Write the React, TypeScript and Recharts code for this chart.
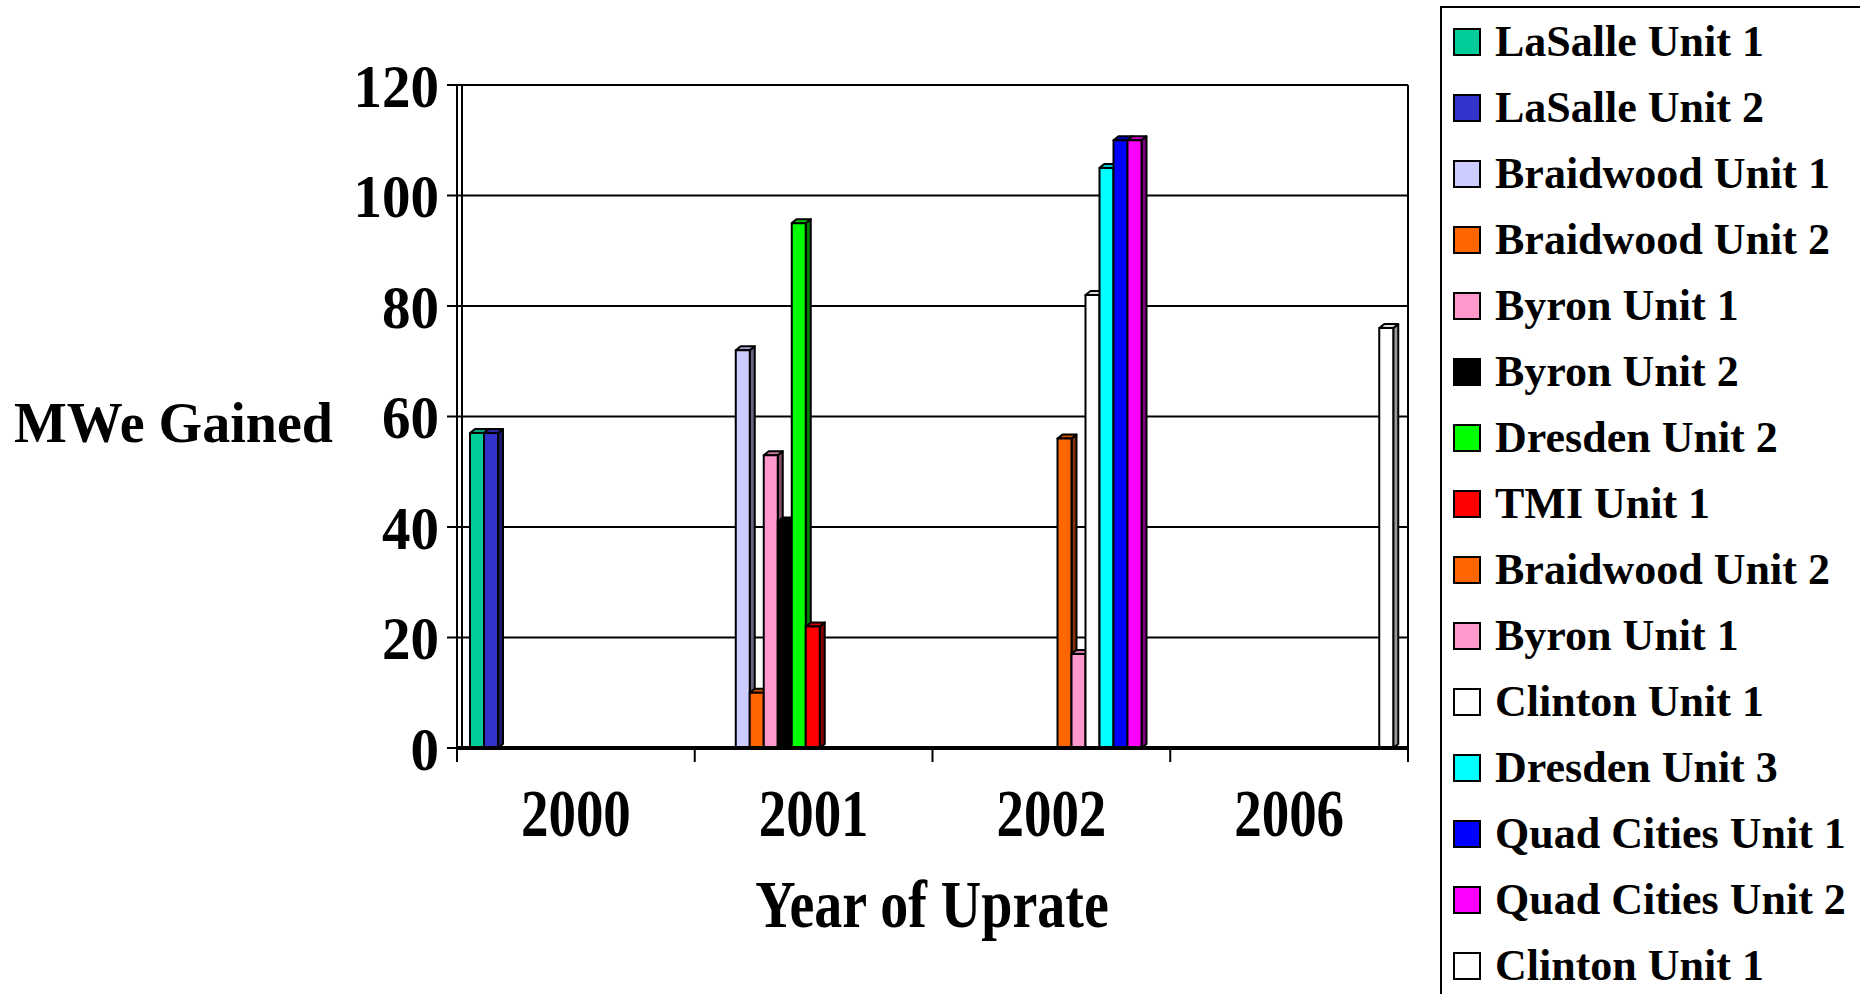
import React from 'react';
import { Bar, BarChart, CartesianGrid, XAxis, YAxis } from 'recharts';

const categories = ['2000', '2001', '2002', '2006'];

const seriesNames = [
  'LaSalle Unit 1',
  'LaSalle Unit 2',
  'Braidwood Unit 1',
  'Braidwood Unit 2',
  'Byron Unit 1',
  'Byron Unit 2',
  'Dresden Unit 2',
  'TMI Unit 1',
  'Braidwood Unit 2',
  'Byron Unit 1',
  'Clinton Unit 1',
  'Dresden Unit 3',
  'Quad Cities Unit 1',
  'Quad Cities Unit 2',
  'Clinton Unit 1',
];

const seriesColors = [
  '#00CC99', '#3333CC', '#CCCCFF', '#FF6600', '#FF99CC', '#000000', '#00FF00', '#FF0000',
  '#FF6600', '#FF99CC', '#FFFFFF', '#00FFFF', '#0000FF', '#FF00FF', '#FFFFFF',
];

// one row per series, one value per year
const seriesValues = [
  [57, 0, 0, 0],
  [57, 0, 0, 0],
  [0, 72, 0, 0],
  [0, 10, 0, 0],
  [0, 53, 0, 0],
  [0, 41, 0, 0],
  [0, 95, 0, 0],
  [0, 22, 0, 0],
  [0, 0, 56, 0],
  [0, 0, 17, 0],
  [0, 0, 82, 0],
  [0, 0, 105, 0],
  [0, 0, 110, 0],
  [0, 0, 110, 0],
  [0, 0, 0, 76],
];

const yTicks = [0, 20, 40, 60, 80, 100, 120];

const W = 1860;
const H = 994;
const PLOT_LEFT = 457;
const PLOT_RIGHT = 1408;
const PLOT_TOP = 85;
const PLOT_BOTTOM = 748;
const BAND = (PLOT_RIGHT - PLOT_LEFT) / categories.length;
const FONT = "'Liberation Serif', 'Times New Roman', serif";
const DX = 5;
const DY = 4;

const chartData = categories.map((year, i) => {
  const row: Record<string, string | number> = { year };
  seriesValues.forEach((vals, s) => {
    row[`s${s}`] = vals[i];
  });
  return row;
});

function shade(hex: string, f: number) {
  const n = parseInt(hex.slice(1), 16);
  const r = Math.round(((n >> 16) & 255) * f);
  const g = Math.round(((n >> 8) & 255) * f);
  const b = Math.round((n & 255) * f);
  return `rgb(${r},${g},${b})`;
}

function Bar3D(props: any) {
  const { x, y, width, height, fill } = props;
  if (!height || height <= 0) return <g />;
  const side = fill === '#FFFFFF' ? '#999999' : shade(fill, 0.5);
  const top = fill === '#FFFFFF' ? '#DDDDDD' : shade(fill, 0.8);
  return (
    <g stroke="#000" strokeWidth={2} strokeLinejoin="round">
      <polygon
        points={`${x + width},${y} ${x + width + DX},${y - DY} ${x + width + DX},${y + height - DY} ${x + width},${y + height}`}
        fill={side}
      />
      <polygon
        points={`${x},${y} ${x + DX},${y - DY} ${x + width + DX},${y - DY} ${x + width},${y}`}
        fill={top}
      />
      <rect x={x} y={y} width={width} height={height} fill={fill} />
    </g>
  );
}

function YTick(props: any) {
  const { x, y, payload } = props;
  return (
    <text
      transform={`translate(${x},${y}) scale(1,1.08)`}
      textAnchor="end"
      dy="0.35em"
      fontFamily={FONT}
      fontWeight="bold"
      fontSize={57}
      fill="#000"
    >
      {payload.value}
    </text>
  );
}

function XTick(props: any) {
  const { x, payload, index } = props;
  const last = index === categories.length - 1;
  return (
    <g>
      <line x1={x - BAND / 2} y1={PLOT_BOTTOM} x2={x - BAND / 2} y2={PLOT_BOTTOM + 14} stroke="#000" strokeWidth={2} />
      {last && (
        <line x1={x + BAND / 2} y1={PLOT_BOTTOM} x2={x + BAND / 2} y2={PLOT_BOTTOM + 14} stroke="#000" strokeWidth={2} />
      )}
      <text
        transform={`translate(${x},836) scale(1,1.22)`}
        textAnchor="middle"
        fontFamily={FONT}
        fontWeight="bold"
        fontSize={55}
        fill="#000"
      >
        {payload.value}
      </text>
    </g>
  );
}

function Legend3D() {
  return (
    <div
      style={{
        position: 'absolute',
        left: 1440,
        top: 6,
        width: 440,
        height: 1000,
        border: '2px solid #000',
        boxSizing: 'border-box',
        background: '#fff',
      }}
    >
      {seriesNames.map((name, i) => (
        <div
          key={`${name}-${i}`}
          style={{
            position: 'absolute',
            left: 11,
            top: 34 + i * 66 - 33,
            height: 66,
            display: 'flex',
            alignItems: 'center',
            whiteSpace: 'nowrap',
          }}
        >
          <div
            style={{
              width: 28,
              height: 28,
              boxSizing: 'border-box',
              border: '2px solid #000',
              background: seriesColors[i],
              marginRight: 14,
            }}
          />
          <span style={{ fontFamily: FONT, fontWeight: 'bold', fontSize: 44, lineHeight: '66px' }}>{name}</span>
        </div>
      ))}
    </div>
  );
}

export default function App() {
  return (
    <div style={{ position: 'absolute', left: 0, top: 0, width: W, height: H, overflow: 'hidden', background: '#fff' }}>
      <BarChart
        width={W}
        height={H}
        data={chartData}
        margin={{ top: PLOT_TOP, right: W - PLOT_RIGHT, bottom: 0, left: 0 }}
        barCategoryGap={13}
        barGap={0}
      >
        <CartesianGrid
          stroke="#000"
          strokeWidth={2}
          vertical={true}
          verticalPoints={[PLOT_LEFT + DX, PLOT_RIGHT]}
          horizontal={true}
        />
        <XAxis
          dataKey="year"
          height={H - PLOT_BOTTOM}
          axisLine={{ stroke: '#000', strokeWidth: 4 }}
          tickLine={false}
          tick={<XTick />}
          interval={0}
        />
        <YAxis
          width={PLOT_LEFT}
          domain={[0, 120]}
          ticks={yTicks}
          interval={0}
          axisLine={{ stroke: '#000', strokeWidth: 2 }}
          tickLine={{ stroke: '#000', strokeWidth: 2 }}
          tickSize={10}
          tickMargin={8}
          tick={<YTick />}
        />
        {seriesNames.map((name, i) => (
          <Bar
            key={`s${i}`}
            dataKey={`s${i}`}
            name={name}
            fill={seriesColors[i]}
            shape={<Bar3D />}
            isAnimationActive={false}
          />
        ))}
        <text x={14} y={442} fontFamily={FONT} fontWeight="bold" fontSize={56} fill="#000">
          MWe Gained
        </text>
        <text
          transform="translate(932,927) scale(1,1.2)"
          textAnchor="middle"
          fontFamily={FONT}
          fontWeight="bold"
          fontSize={56}
          fill="#000"
        >
          Year of Uprate
        </text>
      </BarChart>
      <Legend3D />
    </div>
  );
}
